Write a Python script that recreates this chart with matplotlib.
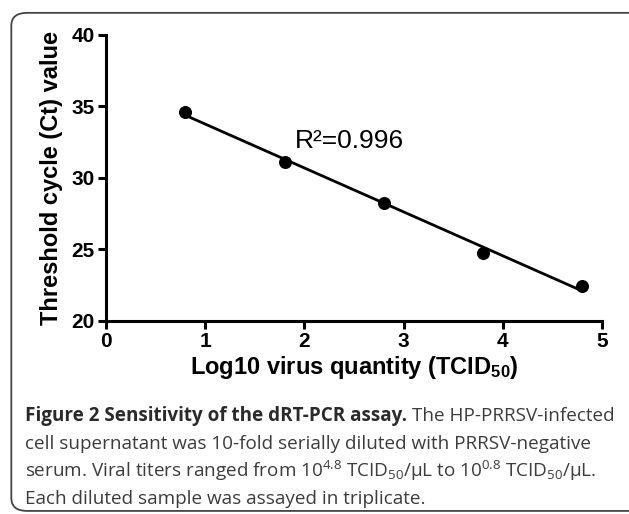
import matplotlib.pyplot as plt
import numpy as np
from matplotlib.patches import FancyBboxPatch

plt.rcParams['mathtext.fontset'] = 'custom'
plt.rcParams['mathtext.rm'] = 'Open Sans'
plt.rcParams['mathtext.it'] = 'Open Sans:italic'
plt.rcParams['mathtext.bf'] = 'Liberation Sans:bold'

# log10 virus quantity (TCID50) vs Ct value
log_qty = [0.8, 1.8, 2.8, 3.8, 4.8]
ct_vals = [34.6, 31.15, 28.27, 24.75, 22.45]
r2_text = 'R\u00b2=0.996'

fig = plt.figure(figsize=(6.29, 5.14), dpi=100)

# rounded frame around figure + caption
frame = FancyBboxPatch((0.018, 0.006), 1.2, 0.969, boxstyle='round,pad=0,rounding_size=0.025',
                       transform=fig.transFigure, fill=False, edgecolor='#444444', lw=1.3)
fig.patches.append(frame)

ax = fig.add_axes([0.1685, 0.3755, 0.7885, 0.5565])

ax.scatter(log_qty, ct_vals, s=70, color='black', zorder=3)
k, b = np.polyfit(log_qty, ct_vals, 1)
xx = np.array([log_qty[0], log_qty[-1]])
ax.plot(xx, k * xx + b, color='black', lw=2)

ax.text(1.9, 32.6, r2_text, fontsize=19, family='Liberation Sans', va='center')

ax.set_xlim(0, 5)
ax.set_ylim(20, 40)
ax.set_xticks([0, 1, 2, 3, 4, 5])
ax.set_yticks([20, 25, 30, 35, 40])
for s in ['top', 'right']:
    ax.spines[s].set_visible(False)
for s in ['left', 'bottom']:
    ax.spines[s].set_linewidth(2.2)
ax.tick_params(width=2.2, length=6, labelsize=15, pad=2)
for lab in ax.get_xticklabels() + ax.get_yticklabels():
    lab.set_fontweight('bold')
    lab.set_family('Liberation Sans')

ax.set_ylabel('Threshold cycle (Ct) value', fontsize=17, fontweight='bold',
              family='Liberation Sans', labelpad=6)
ax.set_xlabel('Log10 virus quantity (TCID$_{\\mathbf{50}}$)', fontsize=17, fontweight='bold',
              family='Liberation Sans', labelpad=2)

# caption
cap_col = '#3c3c3c'
fs = 13.6
x0 = 25 / 629
bases = [421, 449, 477, 504]
ys = [1 - v / 514 for v in bases]
t1 = fig.text(x0, ys[0], 'Figure 2 Sensitivity of the dRT-PCR assay.', fontsize=fs,
              fontweight='bold', family='Open Sans', color='#2a2a2a', va='baseline')
fig.canvas.draw()
ext = t1.get_window_extent()
fig.text((ext.x1 + 5) / 629, ys[0], 'The HP-PRRSV-infected', fontsize=fs,
         family='Open Sans', color=cap_col, va='baseline')
fig.text(x0, ys[1], 'cell supernatant was 10-fold serially diluted with PRRSV-negative',
         fontsize=fs, family='Open Sans', color=cap_col, va='baseline')
fig.text(x0, ys[2],
         'serum. Viral titers ranged from 10$^{4.8}$ TCID$_{50}$/\u00b5L to 10$^{0.8}$ TCID$_{50}$/\u00b5L.',
         fontsize=fs, family='Open Sans', color=cap_col, va='baseline')
fig.text(x0, ys[3], 'Each diluted sample was assayed in triplicate.', fontsize=fs,
         family='Open Sans', color=cap_col, va='baseline')

fig.savefig('out.png', dpi=100)
